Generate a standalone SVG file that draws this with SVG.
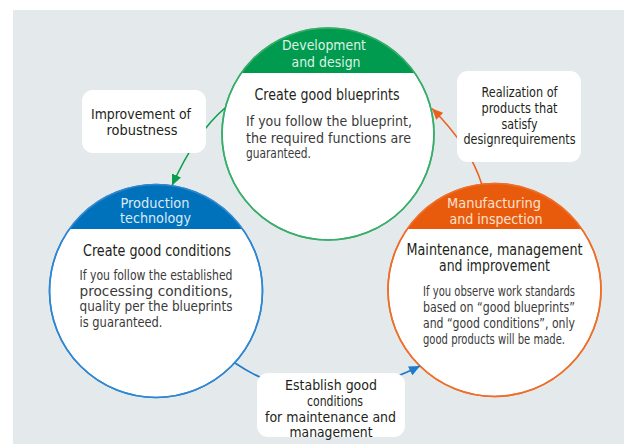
<svg xmlns="http://www.w3.org/2000/svg" width="624" height="444" viewBox="0 0 624 444">
<style>
text{font-family:"Liberation Sans Narrow","DejaVu Sans Condensed","Liberation Sans",sans-serif}
.hd{font-size:14px}
.ti{font-size:15px;fill:#231f20;text-anchor:middle}
.bd{font-size:14px;fill:#3a3a3a}
.lb{font-size:14px;fill:#231f20;text-anchor:middle}
.box{fill:#ffffff}
.circ{fill:#ffffff;stroke-width:1.6}
.con{fill:none;stroke-width:1.6}
</style>
<defs>
<clipPath id="cg"><circle cx="328" cy="134" r="106"/></clipPath>
<clipPath id="cb"><circle cx="156" cy="291" r="106.5"/></clipPath>
<clipPath id="co"><circle cx="494.5" cy="290" r="106.5"/></clipPath>
<marker id="ag" markerUnits="userSpaceOnUse" markerWidth="11" markerHeight="10" refX="11" refY="5" orient="auto"><path d="M0,0 L11,5 L0,10 z" fill="#0a9e4c"/></marker>
<marker id="ao" markerUnits="userSpaceOnUse" markerWidth="11" markerHeight="10" refX="11" refY="5" orient="auto"><path d="M0,0 L11,5 L0,10 z" fill="#e9611a"/></marker>
<marker id="ab" markerUnits="userSpaceOnUse" markerWidth="11" markerHeight="10" refX="11" refY="5" orient="auto"><path d="M0,0 L11,5 L0,10 z" fill="#1e7ccb"/></marker>
</defs>
<rect x="13" y="10" width="611" height="434" fill="#e4e9ec"/>

<g id="node-design">
<circle class="circ" cx="328" cy="134" r="106" stroke="#3aad6b"/>
<rect x="210" y="20" width="240" height="53" fill="#009b4f" clip-path="url(#cg)"/>
<circle cx="328" cy="134" r="106" fill="none" stroke="#3aad6b" stroke-width="1.6"/>
<text class="hd" x="324" y="50" text-anchor="middle" fill="#dff2e6" textLength="84" lengthAdjust="spacingAndGlyphs">Development</text>
<text class="hd" x="326" y="66.5" text-anchor="middle" fill="#dff2e6" textLength="69" lengthAdjust="spacingAndGlyphs">and design</text>
<text class="ti" x="327" y="100" textLength="145" lengthAdjust="spacingAndGlyphs">Create good blueprints</text>
<text class="bd" x="246" y="126" textLength="166" lengthAdjust="spacingAndGlyphs">If you follow the blueprint,</text>
<text class="bd" x="246" y="142.5" textLength="165" lengthAdjust="spacingAndGlyphs">the required functions are</text>
<text class="bd" x="246" y="158" textLength="65" lengthAdjust="spacingAndGlyphs">guaranteed.</text>
</g>

<g id="node-production">
<circle class="circ" cx="156" cy="291" r="106.5" stroke="#2f87d1"/>
<rect x="40" y="180" width="240" height="49" fill="#0072bc" clip-path="url(#cb)"/>
<circle cx="156" cy="291" r="106.5" fill="none" stroke="#2f87d1" stroke-width="1.6"/>
<text class="hd" x="155" y="207.5" text-anchor="middle" fill="#dce9f6" textLength="69" lengthAdjust="spacingAndGlyphs">Production</text>
<text class="hd" x="155.5" y="222.5" text-anchor="middle" fill="#dce9f6" textLength="71" lengthAdjust="spacingAndGlyphs">technology</text>
<text class="ti" x="157" y="256" textLength="148" lengthAdjust="spacingAndGlyphs">Create good conditions</text>
<text class="bd" x="79.5" y="280" textLength="153" lengthAdjust="spacingAndGlyphs">If you follow the established</text>
<text class="bd" x="79.5" y="295.5" textLength="153" lengthAdjust="spacingAndGlyphs">processing conditions,</text>
<text class="bd" x="79.5" y="311" textLength="153" lengthAdjust="spacingAndGlyphs">quality per the blueprints</text>
<text class="bd" x="79.5" y="327" textLength="83" lengthAdjust="spacingAndGlyphs">is guaranteed.</text>
</g>

<g id="node-manufacturing">
<circle class="circ" cx="494.5" cy="290" r="106.5" stroke="#ee6e2a"/>
<rect x="380" y="178" width="240" height="51" fill="#e95b0c" clip-path="url(#co)"/>
<circle cx="494.5" cy="290" r="106.5" fill="none" stroke="#ee6e2a" stroke-width="1.6"/>
<text class="hd" x="494" y="208" text-anchor="middle" fill="#fbe1d2" textLength="94" lengthAdjust="spacingAndGlyphs">Manufacturing</text>
<text class="hd" x="496" y="224" text-anchor="middle" fill="#fbe1d2" textLength="93" lengthAdjust="spacingAndGlyphs">and inspection</text>
<text class="ti" x="494.5" y="254.5" textLength="176" lengthAdjust="spacingAndGlyphs">Maintenance, management</text>
<text class="ti" x="494.5" y="271" textLength="111" lengthAdjust="spacingAndGlyphs">and improvement</text>
<text class="bd" x="423" y="296" textLength="152" lengthAdjust="spacingAndGlyphs">If you observe work standards</text>
<text class="bd" x="423" y="312" textLength="152" lengthAdjust="spacingAndGlyphs">based on “good blueprints”</text>
<text class="bd" x="423" y="328" textLength="152" lengthAdjust="spacingAndGlyphs">and “good conditions”, only</text>
<text class="bd" x="423" y="344" textLength="142" lengthAdjust="spacingAndGlyphs">good products will be made.</text>
</g>

<g id="connectors">
<path class="con" stroke="#0a9e4c" d="M225,108 Q196,132.5 172,185.5" marker-end="url(#ag)"/>
<path class="con" stroke="#e9611a" d="M482,185 Q470.6,147.2 432,108.5" marker-end="url(#ao)"/>
<path class="con" stroke="#1e7ccb" d="M235,363 Q316,418 420,366" marker-end="url(#ab)"/>
</g>

<g id="label-robustness">
<rect class="box" x="82" y="90" width="124" height="63" rx="11"/>
<text class="lb" x="141" y="119" textLength="100" lengthAdjust="spacingAndGlyphs">Improvement of</text>
<text class="lb" x="142" y="135" textLength="71" lengthAdjust="spacingAndGlyphs">robustness</text>
</g>

<g id="label-realization">
<rect class="box" x="457" y="71" width="124" height="91" rx="11"/>
<text class="lb" x="519.5" y="97" textLength="76" lengthAdjust="spacingAndGlyphs">Realization of</text>
<text class="lb" x="519.5" y="113" textLength="76" lengthAdjust="spacingAndGlyphs">products that</text>
<text class="lb" x="519.5" y="128.5" textLength="36" lengthAdjust="spacingAndGlyphs">satisfy</text>
<text class="lb" x="519.5" y="144" textLength="112" lengthAdjust="spacingAndGlyphs">designrequirements</text>
</g>

<g id="label-establish">
<rect class="box" x="257" y="373" width="148" height="64" rx="11"/>
<text class="lb" x="331" y="390" textLength="92" lengthAdjust="spacingAndGlyphs">Establish good</text>
<text class="lb" x="335" y="405.5" textLength="56" lengthAdjust="spacingAndGlyphs">conditions</text>
<text class="lb" x="330.5" y="421.5" textLength="131" lengthAdjust="spacingAndGlyphs">for maintenance and</text>
<text class="lb" x="331" y="437" textLength="83" lengthAdjust="spacingAndGlyphs">management</text>
</g>
</svg>
